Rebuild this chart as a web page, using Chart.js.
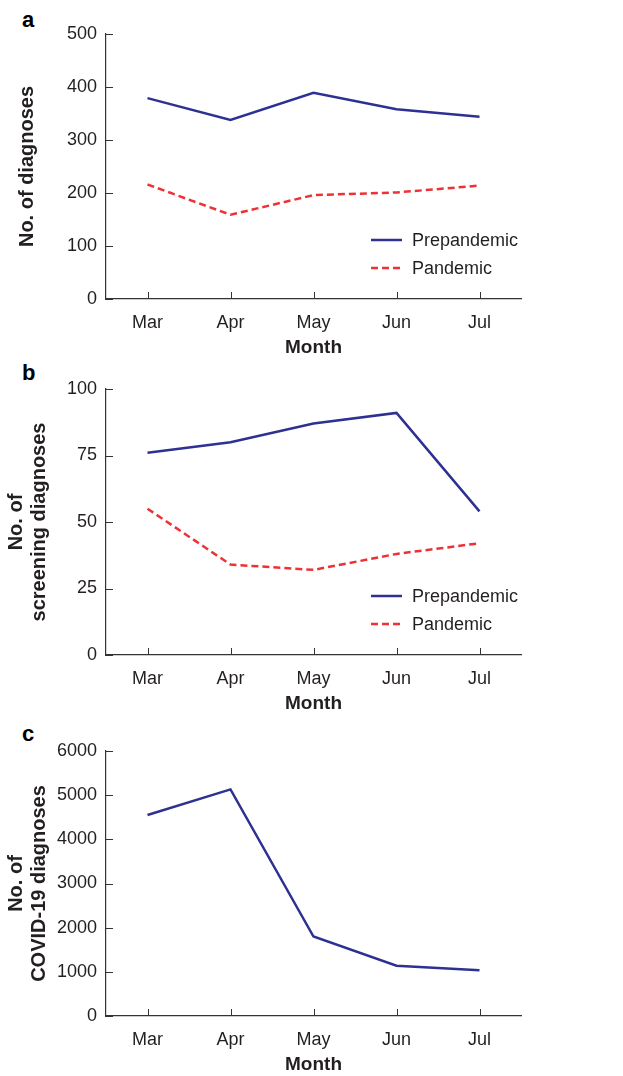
<!DOCTYPE html>
<html>
<head>
<meta charset="utf-8">
<script src="https://cdn.jsdelivr.net/npm/chart.js@4"></script>
<style>
  body { margin: 0; background: #fff; }
  #wrap { position: relative; width: 623px; height: 1076px; overflow: hidden; }
  canvas { position: absolute; left: 0; }
  .tag { position: absolute; left: 22px; font: bold 22px "Liberation Sans", Arial, sans-serif; line-height: 22px; color: #000; }
</style>
</head>
<body>
<div id="wrap">
  <div class="tag" style="top:9px">a</div>
  <canvas id="chartA" width="623" height="359" style="top:0px"></canvas>
  <div class="tag" style="top:362px">b</div>
  <canvas id="chartB" width="623" height="355" style="top:360px"></canvas>
  <div class="tag" style="top:723px">c</div>
  <canvas id="chartC" width="623" height="356" style="top:720px"></canvas>
</div>
<script>
const months = ["Mar", "Apr", "May", "Jun", "Jul"];
const prepandemicDiagnoses = [379, 338, 389, 358, 344];
const pandemicDiagnoses = [216, 159, 196, 201, 214];
const prepandemicScreening = [76, 80, 87, 91, 54];
const pandemicScreening = [55, 34, 32, 38, 42];
const covidDiagnoses = [4550, 5130, 1800, 1140, 1035];

const BLUE = "#2e3192";
const RED = "#ed3237";
const AXIS = "#333333";
const TEXT = "#231f20";
const FONT = "'Liberation Sans', Arial, sans-serif";

// ticks in the reference point inward, so draw them ourselves from the scales
const inwardTicks = {
  id: "inwardTicks",
  afterDraw(chart) {
    const ctx = chart.ctx;
    const xs = chart.scales.x, ys = chart.scales.y;
    const area = chart.chartArea;
    ctx.save();
    ctx.strokeStyle = AXIS;
    ctx.lineWidth = 1;
    xs.ticks.forEach((t, i) => {
      const px = Math.round(xs.getPixelForTick(i)) + 0.5;
      ctx.beginPath();
      ctx.moveTo(px, area.bottom);
      ctx.lineTo(px, area.bottom - 7);
      ctx.stroke();
    });
    ys.ticks.forEach((t, i) => {
      const py = Math.round(ys.getPixelForTick(i)) + 0.5;
      ctx.beginPath();
      ctx.moveTo(area.left, py);
      ctx.lineTo(area.left + 7, py);
      ctx.stroke();
    });
    ctx.restore();
  }
};

// legend sits inside the plot, bottom right
const innerLegend = {
  id: "innerLegend",
  afterDraw(chart) {
    const sets = chart.data.datasets;
    if (sets.length < 2) return;
    const ctx = chart.ctx;
    const area = chart.chartArea;
    ctx.save();
    sets.forEach((ds, i) => {
      const y = area.bottom - 59 + i * 28;
      ctx.beginPath();
      ctx.strokeStyle = ds.borderColor;
      ctx.lineWidth = ds.borderWidth;
      ctx.setLineDash(ds.borderDash || []);
      ctx.moveTo(area.right - 150, y);
      ctx.lineTo(area.right - 119, y);
      ctx.stroke();
      ctx.setLineDash([]);
      ctx.fillStyle = TEXT;
      ctx.font = "18px " + FONT;
      ctx.textBaseline = "middle";
      ctx.fillText(ds.label, area.right - 109, y + 1);
    });
    ctx.restore();
  }
};

function makeChart(id, datasets, yMax, yStep, yTitle, titlePad, topPad) {
  return new Chart(document.getElementById(id), {
    type: "line",
    data: { labels: months, datasets: datasets },
    plugins: [inwardTicks, innerLegend],
    options: {
      responsive: false,
      animation: false,
      layout: { padding: { top: topPad, right: 102, bottom: 0, left: 0 } },
      plugins: { legend: { display: false }, tooltip: { enabled: false } },
      elements: { point: { radius: 0 }, line: { tension: 0 } },
      scales: {
        x: {
          offset: true,
          grid: { display: false, drawTicks: false },
          border: { display: true, color: AXIS, width: 1.2 },
          ticks: { color: TEXT, padding: 13, font: { family: FONT, size: 18 } },
          title: {
            display: true, text: "Month", color: TEXT,
            font: { family: FONT, size: 19, weight: "bold" },
            padding: { top: 0, bottom: 0 }
          },
          afterFit(scale) { scale.height = 60; }
        },
        y: {
          min: 0, max: yMax,
          grid: { display: false, drawTicks: false },
          border: { display: true, color: AXIS, width: 1.2 },
          ticks: {
            stepSize: yStep, color: TEXT, padding: 9,
            font: { family: FONT, size: 18 },
            callback: v => String(v)
          },
          title: {
            display: true, text: yTitle, color: TEXT,
            font: { family: FONT, size: 20, weight: "bold", lineHeight: 1.15 },
            padding: { top: titlePad, bottom: 0 }
          },
          afterFit(scale) { scale.width = 106; }
        }
      }
    }
  });
}

function solid(label, data) {
  return { label: label, data: data, borderColor: BLUE, borderWidth: 2.5, fill: false };
}
function dashed(label, data) {
  return { label: label, data: data, borderColor: RED, borderWidth: 2.5, borderDash: [7, 4], fill: false };
}

makeChart("chartA",
  [solid("Prepandemic", prepandemicDiagnoses), dashed("Pandemic", pandemicDiagnoses)],
  500, 100, "No. of diagnoses", 15.5, 34);

makeChart("chartB",
  [solid("Prepandemic", prepandemicScreening), dashed("Pandemic", pandemicScreening)],
  100, 25, ["No. of", "screening diagnoses"], 4.5, 29);

makeChart("chartC",
  [solid("COVID-19", covidDiagnoses)],
  6000, 1000, ["No. of", "COVID-19 diagnoses"], 5, 31);
</script>
</body>
</html>
